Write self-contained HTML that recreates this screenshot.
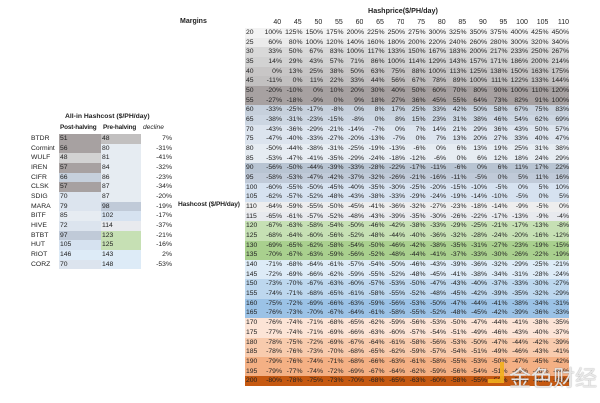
<!DOCTYPE html>
<html><head><meta charset="utf-8"><style>
body{margin:0;width:600px;height:403px;background:#fff;position:relative;overflow:hidden;font-family:"Liberation Sans","Noto Sans CJK SC",sans-serif;color:#222}
.a{position:absolute;white-space:nowrap}
table{border-collapse:collapse;table-layout:fixed;position:absolute}
td,th{padding:0;font-size:6.8px;font-weight:normal;line-height:9.67px;height:9.67px;overflow:hidden;white-space:nowrap}
#g{left:245px;top:28px;width:324px}
#g th{text-align:left;width:15.5px;padding-left:1px}
#g td{text-align:right;width:20.5px}
#h{left:245px;top:18px;width:324px}
#h td{text-align:right;width:20.5px;font-size:7px}
#l{left:30px;top:134px;width:142px}
#l td{padding-left:1px}
.g0{background:#f3f3f3}.g1{background:#ebebeb}.g2{background:#d9d9d9}.g3{background:#d2d2d2}.g4{background:#c8c6c6}.g5{background:#c2c0c0}.g6{background:#a7a1a1}
.b0{background:#c6d0dc}.b1{background:#ccd6e2}.b2{background:#dce4ee}.b3{background:#e6ecf2}.b4{background:#b8c4d2}.b5{background:#c0cad8}.b6{background:#d6e2f0}.w0{background:#eeeeee}.w1{background:#e8eaee}
.n1{background:#c6e0b4}.n2{background:#a9d08e}.c1{background:#ddebf7}.c2{background:#bdd7ee}.c3{background:#9bc2e6}
.o1{background:#fce4d6}.o2{background:#f8cbad}.o3{background:#f4b084}.o4{background:#c65911}
</style></head><body>
<div class="a" style="left:368px;top:6px;font-size:7.2px;font-weight:bold">Hashprice($/PH/day)</div>
<div class="a" style="left:180px;top:18px;font-size:7px;font-weight:bold">Margins</div>
<div class="a" style="left:178px;top:201px;font-size:6.6px;font-weight:bold;letter-spacing:-0.1px">Hashcost ($/PH/day)</div>
<table id="h"><tr><td style="width:15.5px"></td><td>40</td><td>45</td><td>50</td><td>55</td><td>60</td><td>65</td><td>70</td><td>75</td><td>80</td><td>85</td><td>90</td><td>95</td><td>100</td><td>105</td><td>110</td></tr></table>
<table id="g">
<tr class="g0"><th>20</th><td>100%</td><td>125%</td><td>150%</td><td>175%</td><td>200%</td><td>225%</td><td>250%</td><td>275%</td><td>300%</td><td>325%</td><td>350%</td><td>375%</td><td>400%</td><td>425%</td><td>450%</td></tr>
<tr class="g1"><th>25</th><td>60%</td><td>80%</td><td>100%</td><td>120%</td><td>140%</td><td>160%</td><td>180%</td><td>200%</td><td>220%</td><td>240%</td><td>260%</td><td>280%</td><td>300%</td><td>320%</td><td>340%</td></tr>
<tr class="g2"><th>30</th><td>33%</td><td>50%</td><td>67%</td><td>83%</td><td>100%</td><td>117%</td><td>133%</td><td>150%</td><td>167%</td><td>183%</td><td>200%</td><td>217%</td><td>233%</td><td>250%</td><td>267%</td></tr>
<tr class="g3"><th>35</th><td>14%</td><td>29%</td><td>43%</td><td>57%</td><td>71%</td><td>86%</td><td>100%</td><td>114%</td><td>129%</td><td>143%</td><td>157%</td><td>171%</td><td>186%</td><td>200%</td><td>214%</td></tr>
<tr class="g4"><th>40</th><td>0%</td><td>13%</td><td>25%</td><td>38%</td><td>50%</td><td>63%</td><td>75%</td><td>88%</td><td>100%</td><td>113%</td><td>125%</td><td>138%</td><td>150%</td><td>163%</td><td>175%</td></tr>
<tr class="g5"><th>45</th><td>-11%</td><td>0%</td><td>11%</td><td>22%</td><td>33%</td><td>44%</td><td>56%</td><td>67%</td><td>78%</td><td>89%</td><td>100%</td><td>111%</td><td>122%</td><td>133%</td><td>144%</td></tr>
<tr class="g6"><th>50</th><td>-20%</td><td>-10%</td><td>0%</td><td>10%</td><td>20%</td><td>30%</td><td>40%</td><td>50%</td><td>60%</td><td>70%</td><td>80%</td><td>90%</td><td>100%</td><td>110%</td><td>120%</td></tr>
<tr class="g6"><th>55</th><td>-27%</td><td>-18%</td><td>-9%</td><td>0%</td><td>9%</td><td>18%</td><td>27%</td><td>36%</td><td>45%</td><td>55%</td><td>64%</td><td>73%</td><td>82%</td><td>91%</td><td>100%</td></tr>
<tr class="b0"><th>60</th><td>-33%</td><td>-25%</td><td>-17%</td><td>-8%</td><td>0%</td><td>8%</td><td>17%</td><td>25%</td><td>33%</td><td>42%</td><td>50%</td><td>58%</td><td>67%</td><td>75%</td><td>83%</td></tr>
<tr class="b1"><th>65</th><td>-38%</td><td>-31%</td><td>-23%</td><td>-15%</td><td>-8%</td><td>0%</td><td>8%</td><td>15%</td><td>23%</td><td>31%</td><td>38%</td><td>46%</td><td>54%</td><td>62%</td><td>69%</td></tr>
<tr class="b2"><th>70</th><td>-43%</td><td>-36%</td><td>-29%</td><td>-21%</td><td>-14%</td><td>-7%</td><td>0%</td><td>7%</td><td>14%</td><td>21%</td><td>29%</td><td>36%</td><td>43%</td><td>50%</td><td>57%</td></tr>
<tr class="b2"><th>75</th><td>-47%</td><td>-40%</td><td>-33%</td><td>-27%</td><td>-20%</td><td>-13%</td><td>-7%</td><td>0%</td><td>7%</td><td>13%</td><td>20%</td><td>27%</td><td>33%</td><td>40%</td><td>47%</td></tr>
<tr class="b3"><th>80</th><td>-50%</td><td>-44%</td><td>-38%</td><td>-31%</td><td>-25%</td><td>-19%</td><td>-13%</td><td>-6%</td><td>0%</td><td>6%</td><td>13%</td><td>19%</td><td>25%</td><td>31%</td><td>38%</td></tr>
<tr class="b3"><th>85</th><td>-53%</td><td>-47%</td><td>-41%</td><td>-35%</td><td>-29%</td><td>-24%</td><td>-18%</td><td>-12%</td><td>-6%</td><td>0%</td><td>6%</td><td>12%</td><td>18%</td><td>24%</td><td>29%</td></tr>
<tr class="b4"><th>90</th><td>-56%</td><td>-50%</td><td>-44%</td><td>-39%</td><td>-33%</td><td>-28%</td><td>-22%</td><td>-17%</td><td>-11%</td><td>-6%</td><td>0%</td><td>6%</td><td>11%</td><td>17%</td><td>22%</td></tr>
<tr class="b5"><th>95</th><td>-58%</td><td>-53%</td><td>-47%</td><td>-42%</td><td>-37%</td><td>-32%</td><td>-26%</td><td>-21%</td><td>-16%</td><td>-11%</td><td>-5%</td><td>0%</td><td>5%</td><td>11%</td><td>16%</td></tr>
<tr class="b6"><th>100</th><td>-60%</td><td>-55%</td><td>-50%</td><td>-45%</td><td>-40%</td><td>-35%</td><td>-30%</td><td>-25%</td><td>-20%</td><td>-15%</td><td>-10%</td><td>-5%</td><td>0%</td><td>5%</td><td>10%</td></tr>
<tr class="b6"><th>105</th><td>-62%</td><td>-57%</td><td>-52%</td><td>-48%</td><td>-43%</td><td>-38%</td><td>-33%</td><td>-29%</td><td>-24%</td><td>-19%</td><td>-14%</td><td>-10%</td><td>-5%</td><td>0%</td><td>5%</td></tr>
<tr class="w0"><th>110</th><td>-64%</td><td>-59%</td><td>-55%</td><td>-50%</td><td>-45%</td><td>-41%</td><td>-36%</td><td>-32%</td><td>-27%</td><td>-23%</td><td>-18%</td><td>-14%</td><td>-9%</td><td>-5%</td><td>0%</td></tr>
<tr class="w1"><th>115</th><td>-65%</td><td>-61%</td><td>-57%</td><td>-52%</td><td>-48%</td><td>-43%</td><td>-39%</td><td>-35%</td><td>-30%</td><td>-26%</td><td>-22%</td><td>-17%</td><td>-13%</td><td>-9%</td><td>-4%</td></tr>
<tr class="n1"><th>120</th><td>-67%</td><td>-63%</td><td>-58%</td><td>-54%</td><td>-50%</td><td>-46%</td><td>-42%</td><td>-38%</td><td>-33%</td><td>-29%</td><td>-25%</td><td>-21%</td><td>-17%</td><td>-13%</td><td>-8%</td></tr>
<tr class="n1"><th>125</th><td>-68%</td><td>-64%</td><td>-60%</td><td>-56%</td><td>-52%</td><td>-48%</td><td>-44%</td><td>-40%</td><td>-36%</td><td>-32%</td><td>-28%</td><td>-24%</td><td>-20%</td><td>-16%</td><td>-12%</td></tr>
<tr class="n2"><th>130</th><td>-69%</td><td>-65%</td><td>-62%</td><td>-58%</td><td>-54%</td><td>-50%</td><td>-46%</td><td>-42%</td><td>-38%</td><td>-35%</td><td>-31%</td><td>-27%</td><td>-23%</td><td>-19%</td><td>-15%</td></tr>
<tr class="n2"><th>135</th><td>-70%</td><td>-67%</td><td>-63%</td><td>-59%</td><td>-56%</td><td>-52%</td><td>-48%</td><td>-44%</td><td>-41%</td><td>-37%</td><td>-33%</td><td>-30%</td><td>-26%</td><td>-22%</td><td>-19%</td></tr>
<tr class="c1"><th>140</th><td>-71%</td><td>-68%</td><td>-64%</td><td>-61%</td><td>-57%</td><td>-54%</td><td>-50%</td><td>-46%</td><td>-43%</td><td>-39%</td><td>-36%</td><td>-32%</td><td>-29%</td><td>-25%</td><td>-21%</td></tr>
<tr class="c1"><th>145</th><td>-72%</td><td>-69%</td><td>-66%</td><td>-62%</td><td>-59%</td><td>-55%</td><td>-52%</td><td>-48%</td><td>-45%</td><td>-41%</td><td>-38%</td><td>-34%</td><td>-31%</td><td>-28%</td><td>-24%</td></tr>
<tr class="c2"><th>150</th><td>-73%</td><td>-70%</td><td>-67%</td><td>-63%</td><td>-60%</td><td>-57%</td><td>-53%</td><td>-50%</td><td>-47%</td><td>-43%</td><td>-40%</td><td>-37%</td><td>-33%</td><td>-30%</td><td>-27%</td></tr>
<tr class="c2"><th>155</th><td>-74%</td><td>-71%</td><td>-68%</td><td>-65%</td><td>-61%</td><td>-58%</td><td>-55%</td><td>-52%</td><td>-48%</td><td>-45%</td><td>-42%</td><td>-39%</td><td>-35%</td><td>-32%</td><td>-29%</td></tr>
<tr class="c3"><th>160</th><td>-75%</td><td>-72%</td><td>-69%</td><td>-66%</td><td>-63%</td><td>-59%</td><td>-56%</td><td>-53%</td><td>-50%</td><td>-47%</td><td>-44%</td><td>-41%</td><td>-38%</td><td>-34%</td><td>-31%</td></tr>
<tr class="c3"><th>165</th><td>-76%</td><td>-73%</td><td>-70%</td><td>-67%</td><td>-64%</td><td>-61%</td><td>-58%</td><td>-55%</td><td>-52%</td><td>-48%</td><td>-45%</td><td>-42%</td><td>-39%</td><td>-36%</td><td>-33%</td></tr>
<tr class="o1"><th>170</th><td>-76%</td><td>-74%</td><td>-71%</td><td>-68%</td><td>-65%</td><td>-62%</td><td>-59%</td><td>-56%</td><td>-53%</td><td>-50%</td><td>-47%</td><td>-44%</td><td>-41%</td><td>-38%</td><td>-35%</td></tr>
<tr class="o1"><th>175</th><td>-77%</td><td>-74%</td><td>-71%</td><td>-69%</td><td>-66%</td><td>-63%</td><td>-60%</td><td>-57%</td><td>-54%</td><td>-51%</td><td>-49%</td><td>-46%</td><td>-43%</td><td>-40%</td><td>-37%</td></tr>
<tr class="o2"><th>180</th><td>-78%</td><td>-75%</td><td>-72%</td><td>-69%</td><td>-67%</td><td>-64%</td><td>-61%</td><td>-58%</td><td>-56%</td><td>-53%</td><td>-50%</td><td>-47%</td><td>-44%</td><td>-42%</td><td>-39%</td></tr>
<tr class="o2"><th>185</th><td>-78%</td><td>-76%</td><td>-73%</td><td>-70%</td><td>-68%</td><td>-65%</td><td>-62%</td><td>-59%</td><td>-57%</td><td>-54%</td><td>-51%</td><td>-49%</td><td>-46%</td><td>-43%</td><td>-41%</td></tr>
<tr class="o3"><th>190</th><td>-79%</td><td>-76%</td><td>-74%</td><td>-71%</td><td>-68%</td><td>-66%</td><td>-63%</td><td>-61%</td><td>-58%</td><td>-55%</td><td>-53%</td><td>-50%</td><td>-47%</td><td>-45%</td><td>-42%</td></tr>
<tr class="o3"><th>195</th><td>-79%</td><td>-77%</td><td>-74%</td><td>-72%</td><td>-69%</td><td>-67%</td><td>-64%</td><td>-62%</td><td>-59%</td><td>-56%</td><td>-54%</td><td>-51%</td><td>-49%</td><td>-46%</td><td>-44%</td></tr>
<tr class="o4"><th>200</th><td>-80%</td><td>-78%</td><td>-75%</td><td>-73%</td><td>-70%</td><td>-68%</td><td>-65%</td><td>-63%</td><td>-60%</td><td>-58%</td><td>-55%</td><td>-53%</td><td>-50%</td><td>-48%</td><td>-45%</td></tr>
</table>
<div class="a" style="left:65px;top:113px;font-size:6.8px;font-weight:bold">All-in Hashcost ($/PH/day)</div>
<div class="a" style="left:60px;top:124px;font-size:6.4px;font-weight:bold;letter-spacing:-0.15px">Post-halving</div>
<div class="a" style="left:103px;top:124px;font-size:6.4px;font-weight:bold;letter-spacing:-0.15px">Pre-halving</div>
<div class="a" style="left:143px;top:124px;font-size:6.6px;font-style:italic">decline</div>
<table id="l">
<colgroup><col style="width:29px"><col style="width:42px"><col style="width:40px"><col style="width:31px"></colgroup>
<tr><td>BTDR</td><td class="g6">51</td><td class="g5">48</td><td style="text-align:right">7%</td></tr>
<tr><td>Cormint</td><td class="g6">56</td><td class="b3">80</td><td style="text-align:right">-31%</td></tr>
<tr><td>WULF</td><td class="g3">48</td><td class="b3">81</td><td style="text-align:right">-41%</td></tr>
<tr><td>IREN</td><td class="g6">57</td><td class="b3">84</td><td style="text-align:right">-32%</td></tr>
<tr><td>CIFR</td><td class="b0">66</td><td class="b3">86</td><td style="text-align:right">-23%</td></tr>
<tr><td>CLSK</td><td class="g6">57</td><td class="b3">87</td><td style="text-align:right">-34%</td></tr>
<tr><td>SDIG</td><td class="b2">70</td><td class="b3">87</td><td style="text-align:right">-20%</td></tr>
<tr><td>MARA</td><td class="b2">79</td><td class="b5">98</td><td style="text-align:right">-19%</td></tr>
<tr><td>BITF</td><td class="b3">85</td><td class="b6">102</td><td style="text-align:right">-17%</td></tr>
<tr><td>HIVE</td><td class="b2">72</td><td class="w1">114</td><td style="text-align:right">-37%</td></tr>
<tr><td>BTBT</td><td class="b5">97</td><td class="n1">123</td><td style="text-align:right">-21%</td></tr>
<tr><td>HUT</td><td class="b6">105</td><td class="n1">125</td><td style="text-align:right">-16%</td></tr>
<tr><td>RIOT</td><td class="c1">146</td><td class="c1">143</td><td style="text-align:right">2%</td></tr>
<tr><td>CORZ</td><td class="b2">70</td><td class="c1">148</td><td style="text-align:right">-53%</td></tr>
</table>
<div class="a" style="left:488px;top:362px;width:12px;height:17px;border-right:4px solid #f2b01e;border-bottom:4px solid #f2b01e;opacity:.9"></div>
<div class="a" style="left:509px;top:361px;font-size:22px;color:rgba(255,255,255,.8);text-shadow:0 0 1px #777">金色财经</div>
</body></html>
